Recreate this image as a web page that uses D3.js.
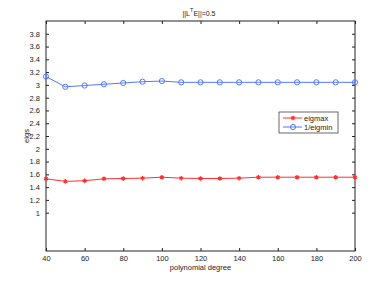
<!DOCTYPE html>
<html>
<head>
<meta charset="utf-8">
<script src="https://cdn.jsdelivr.net/npm/d3@7"></script>
<style>
  body { margin: 0; background: #fff; }
  svg text { font-family: "Liberation Sans", Arial, sans-serif; fill: #222; }
</style>
</head>
<body>
<svg id="chart"></svg>
<script>
const degrees = [40, 50, 60, 70, 80, 90, 100, 110, 120, 130, 140, 150, 160, 170, 180, 190, 200]
const eigmax = [1.53, 1.49, 1.50, 1.53, 1.535, 1.54, 1.555, 1.54, 1.535, 1.535, 1.54, 1.555, 1.555, 1.555, 1.555, 1.555, 1.555]
const invEigmin = [3.13, 2.97, 2.99, 3.01, 3.03, 3.05, 3.06, 3.04, 3.04, 3.04, 3.04, 3.04, 3.04, 3.04, 3.04, 3.04, 3.04]
const xTicks = [40, 60, 80, 100, 120, 140, 160, 180, 200]
const yTicks = [1, 1.2, 1.4, 1.6, 1.8, 2, 2.2, 2.4, 2.6, 2.8, 3, 3.2, 3.4, 3.6, 3.8]
const seriesNames = ['eigmax', '1/eigmin']

const width = 392, height = 283
const padding = [21, 37, 32, 46] // top right bottom left

const svg = d3.select('#chart').attr('width', width).attr('height', height)

const leftSide = padding[3], rightSide = width - padding[1]
const topSide = padding[0], bottomSide = height - padding[2]

const x = d3.scaleLinear().domain([40, 200]).range([leftSide, rightSide])
const y = d3.scaleLinear().domain([0.4, 4]).range([bottomSide, topSide])

// box
svg.append('rect')
    .attr('x', leftSide).attr('y', topSide)
    .attr('width', rightSide - leftSide).attr('height', bottomSide - topSide)
    .attr('fill', 'none').attr('stroke', '#222').attr('stroke-width', 1)

const fmtY = d => (Math.round(d * 10) / 10).toString()

const styleAxis = g => {
    g.select('.domain').remove()
    g.selectAll('.tick line').attr('stroke', '#222')
    g.selectAll('.tick text').attr('font-size', 7.5).attr('fill', '#222')
}

svg.append('g').attr('transform', `translate(0,${bottomSide})`)
    .call(d3.axisBottom(x).tickValues(xTicks).tickSize(-3).tickPadding(4.5))
    .call(styleAxis)
svg.append('g').attr('transform', `translate(0,${topSide})`)
    .call(d3.axisTop(x).tickValues(xTicks).tickSize(-3).tickFormat(''))
    .call(styleAxis)
svg.append('g').attr('transform', `translate(${leftSide},0)`)
    .call(d3.axisLeft(y).tickValues(yTicks).tickSize(-3).tickPadding(6).tickFormat(fmtY))
    .call(styleAxis)
svg.append('g').attr('transform', `translate(${rightSide},0)`)
    .call(d3.axisRight(y).tickValues(yTicks).tickSize(-3).tickFormat(''))
    .call(styleAxis)

const line = d3.line().x((d, i) => x(degrees[i])).y(d => y(d))

const red = '#ff3030', blue = '#5577ff'

// eigmax
svg.append('path').datum(eigmax)
    .attr('d', line).attr('fill', 'none').attr('stroke', red).attr('stroke-width', 1)
svg.append('g').selectAll('path').data(eigmax).join('path')
    .attr('transform', (d, i) => `translate(${x(degrees[i])},${y(d)})`)
    .attr('d', d3.symbol(d3.symbolAsterisk, 14))
    .attr('stroke', red).attr('stroke-width', 1.3).attr('fill', red)

// 1/eigmin
svg.append('path').datum(invEigmin)
    .attr('d', line).attr('fill', 'none').attr('stroke', blue).attr('stroke-width', 1)
svg.append('g').selectAll('circle').data(invEigmin).join('circle')
    .attr('cx', (d, i) => x(degrees[i])).attr('cy', d => y(d)).attr('r', 2.6)
    .attr('fill', 'none').attr('stroke', blue).attr('stroke-width', 1)

// legend
const legend = svg.append('g').attr('transform', 'translate(279,112)')
legend.append('rect').attr('width', 59).attr('height', 21)
    .attr('fill', '#fff').attr('stroke', '#444').attr('stroke-width', 0.8)
const rows = [[seriesNames[0], red, 'star'], [seriesNames[1], blue, 'circle']]
rows.forEach(([name, col, mark], i) => {
    const yy = 6 + i * 9
    legend.append('line').attr('x1', 4).attr('x2', 23).attr('y1', yy).attr('y2', yy)
        .attr('stroke', col).attr('stroke-width', 1)
    if (mark === 'star') {
        legend.append('path').attr('transform', `translate(14,${yy})`)
            .attr('d', d3.symbol(d3.symbolAsterisk, 14))
            .attr('stroke', col).attr('stroke-width', 1.3)
    } else {
        legend.append('circle').attr('cx', 14).attr('cy', yy).attr('r', 2.6)
            .attr('fill', 'none').attr('stroke', col)
    }
    legend.append('text').attr('x', 25).attr('y', yy + 2.5)
        .attr('font-size', 7.5).text(name)
})

// title
const title = svg.append('text').attr('x', 199).attr('y', 16)
    .attr('text-anchor', 'middle').attr('font-size', 7)
title.append('tspan').text('||L')
title.append('tspan').attr('dy', -4).attr('font-size', 5.5).text('T')
title.append('tspan').attr('dy', 4).text('E||=0.5')

// axis labels
svg.append('text').attr('x', (leftSide + rightSide) / 2).attr('y', 270)
    .attr('text-anchor', 'middle').attr('font-size', 7.5).text('polynomial degree')
svg.append('text').attr('transform', `translate(29,${(topSide + bottomSide) / 2}) rotate(-90)`)
    .attr('text-anchor', 'middle').attr('font-size', 7.5).text('eigs')
</script>
</body>
</html>
